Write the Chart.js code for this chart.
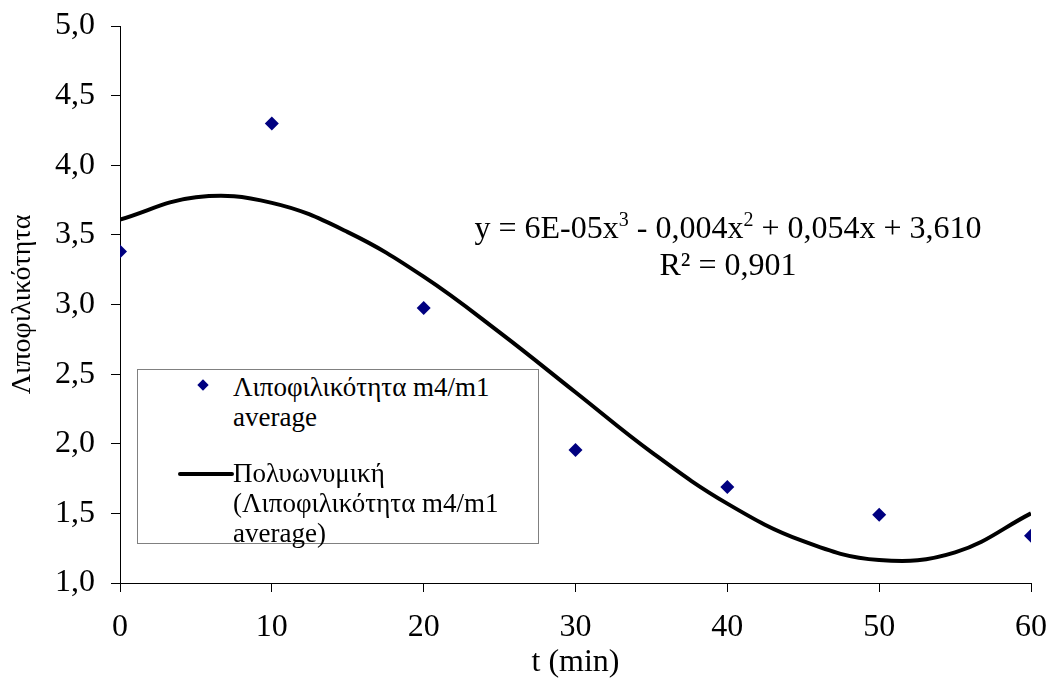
<!DOCTYPE html>
<html>
<head>
<meta charset="utf-8">
<script src="https://cdn.jsdelivr.net/npm/chart.js@4.4.1/dist/chart.umd.min.js"></script>
<style>
  body { margin: 0; background: #fff; }
  #wrap { position: relative; width: 1052px; height: 683px; font-family: "Liberation Serif", "Times New Roman", serif; }
  #eq { position: absolute; left: 468px; top: 209px; width: 520px; font-size: 32px; line-height: 37px; text-align: center; color: #000; }
  #eq sup { font-size: 20px; vertical-align: 12px; line-height: 0; }
  #legend { position: absolute; left: 137px; top: 369px; width: 402px; height: 175px; background: #fff; border: 1px solid #808080; box-sizing: border-box; font-size: 27px; line-height: 30px; color: #000; }
  .item { position: absolute; left: 95px; white-space: nowrap; }
  .mark { position: absolute; left: 61px; top: 11px; width: 8px; height: 8px; background: #000080; transform: rotate(45deg); }
  .line { position: absolute; left: 40px; top: 102px; width: 56px; height: 4px; background: #000; border-radius: 2px; }
</style>
</head>
<body>
<div id="wrap">
  <canvas id="chart" width="1052" height="683"></canvas>
  <div id="eq">y = 6E-05x<sup>3</sup> - 0,004x<sup>2</sup> + 0,054x + 3,610<br>R² = 0,901</div>
  <div id="legend">
    <div class="mark"></div>
    <div class="item" style="top:2px">Λιποφιλικότητα m4/m1<br>average</div>
    <div class="line"></div>
    <div class="item" style="top:88px">Πολυωνυμική<br>(Λιποφιλικότητα m4/m1<br>average)</div>
  </div>
</div>
<script>
  // measured points (t in min)
  const times = [0, 10, 20, 30, 40, 50, 60];
  const lipo = [3.38, 4.30, 2.975, 1.955, 1.69, 1.49, 1.34];

  // trend line
  const trendX = [0, 5, 10, 15, 20, 25, 30, 35, 40, 45, 50, 55, 60];
  const trendY = [3.61, 3.77, 3.73, 3.52, 3.20, 2.80, 2.37, 1.94, 1.57, 1.30, 1.165, 1.22, 1.50];

  const yTicks = [1.0, 1.5, 2.0, 2.5, 3.0, 3.5, 4.0, 4.5, 5.0];

  const serif = '"Liberation Serif", "Times New Roman", serif';

  const ctx = document.getElementById('chart').getContext('2d');
  new Chart(ctx, {
    type: 'scatter',
    data: {
      datasets: [
        {
          label: 'Λιποφιλικότητα m4/m1 average',
          data: times.map((t, i) => ({ x: t, y: lipo[i] })),
          pointStyle: 'rectRot',
          pointRadius: 7,
          backgroundColor: '#000080',
          borderColor: '#000080',
          borderWidth: 0,
          order: 1
        },
        {
          label: 'Πολυωνυμική (Λιποφιλικότητα m4/m1 average)',
          data: trendX.map((t, i) => ({ x: t, y: trendY[i] })),
          showLine: true,
          borderColor: '#000',
          borderWidth: 4,
          pointRadius: 0,
          tension: 0.4,
          order: 2
        }
      ]
    },
    options: {
      responsive: false,
      animation: false,
      layout: { padding: { top: 26, right: 21, left: 0, bottom: 0 } },
      plugins: {
        legend: { display: false },
        tooltip: { enabled: false }
      },
      scales: {
        x: {
          type: 'linear',
          min: 0,
          max: 60,
          afterFit: s => { s.height = 100; s.paddingLeft = 0; s.paddingRight = 0; },
          ticks: {
            stepSize: 10,
            color: '#000',
            padding: 16,
            font: { family: serif, size: 32 }
          },
          grid: { display: true, drawOnChartArea: false, drawTicks: true, tickLength: 9, color: '#000' },
          border: { display: true, color: '#000', width: 1 },
          title: {
            display: true,
            text: 't (min)',
            color: '#000',
            padding: { top: 0, bottom: 1 },
            font: { family: serif, size: 32 }
          }
        },
        y: {
          min: 1,
          max: 5,
          afterFit: s => { s.width = 120; s.paddingTop = 0; s.paddingBottom = 0; },
          afterBuildTicks: s => { s.ticks = yTicks.map(v => ({ value: v })); },
          ticks: {
            color: '#000',
            padding: 16,
            font: { family: serif, size: 32 },
            callback: v => v.toFixed(1).replace('.', ',')
          },
          grid: { display: true, drawOnChartArea: false, drawTicks: true, tickLength: 9, color: '#000' },
          border: { display: true, color: '#000', width: 1 },
          title: {
            display: true,
            text: 'Λιποφιλικότητα',
            color: '#000',
            padding: { top: 6, bottom: 0 },
            font: { family: serif, size: 28 }
          }
        }
      }
    }
  });
</script>
</body>
</html>
